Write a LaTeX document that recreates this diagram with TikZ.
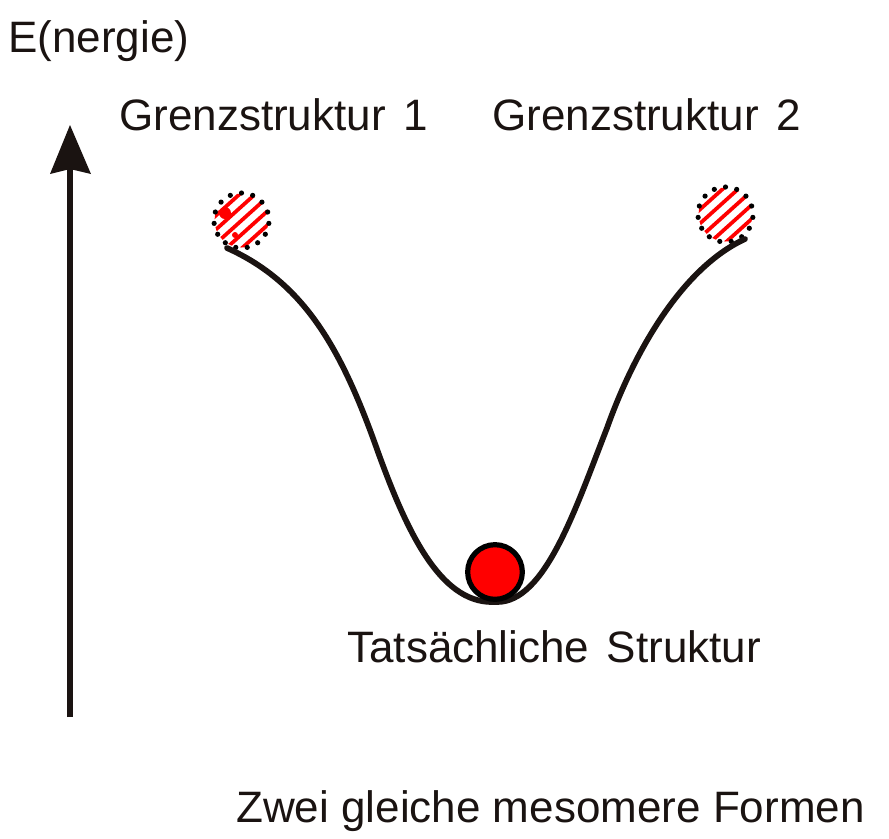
\documentclass[tikz,border=0pt]{standalone}
\usepackage{fontspec}
\usetikzlibrary{calc}
\setmainfont{Liberation Sans}
\definecolor{ink}{HTML}{1A1311}
\definecolor{ballred}{HTML}{FF0000}
\tikzset{
  px/.style={x=0.75pt,y=-0.75pt},
  lab/.style={anchor=base west,inner sep=0pt,text=ink,font=\fontsize{33}{38}\selectfont},
  hatchline/.style={draw=ballred,line width=2.8pt},
  well/.style={draw=ink,line width=4.3pt,line cap=round},
  axis/.style={draw=ink,line width=4.4pt},
}
\begin{document}
\begin{tikzpicture}[px]
\useasboundingbox (0,0) rectangle (889,839);
% axis
\coordinate (axisbase) at (70,717);
\coordinate (axistip) at (70,125);
\draw[axis] (axisbase) -- (70,165);
\fill[ink] (axistip) -- (91,174) -- (70,169) -- (50,174) -- cycle;
% left ball
\coordinate (ballL) at (241.5,220.5);
\begin{scope}
  \clip (ballL) circle (27);
  \foreach \d in {-42,-28,...,42}
    \draw[hatchline] ($(ballL)+(-40,{36+\d})$) -- ($(ballL)+(40,{-36+\d})$);
  \fill[ballred] (225,213) circle (6);
  \fill[ballred] (235,235) circle (3);
\end{scope}
\foreach \a in {6,30,...,342}
  \fill[black] (ballL) ++(\a:27.5) circle (2.6);
% right ball
\coordinate (ballR) at (725.5,214.5);
\begin{scope}
  \clip (ballR) circle (27);
  \foreach \d in {-42,-28,...,42}
    \draw[hatchline] ($(ballR)+(-40,{36+\d})$) -- ($(ballR)+(40,{-36+\d})$);
\end{scope}
\foreach \a in {6,30,...,342}
  \fill[black] (ballR) ++(\a:27.5) circle (2.6);
% curve
\coordinate (wellL) at (227,248);
\coordinate (wellR) at (745,239);
\draw[well] (wellL) .. controls (305,283) and (342,350) .. (378,452)
  .. controls (407,532) and (440,602) .. (492,602)
  -- (497,602)
  .. controls (545,602) and (575,510) .. (607,428)
  .. controls (634,352) and (682,268) .. (wellR);
% real structure
\node[circle,draw=black,fill=ballred,line width=3.9pt,minimum size=41pt,inner sep=0pt] (ballM) at (495,572) {};
% labels
\node[lab] (energy) at (8,52) {E(nergie)};
\node[lab] (gs1) at (119,130.5) {Grenzstruktur\hspace{0.12em} 1};
\node[lab] (gs2) at (492,130.5) {Grenzstruktur\hspace{0.12em} 2};
\node[lab] (real) at (347,662) {Tatsächliche\hspace{0.12em} Struktur};
\node[lab] (forms) at (236,822) {Zwei gleiche mesomere Formen};
\end{tikzpicture}
\end{document}
